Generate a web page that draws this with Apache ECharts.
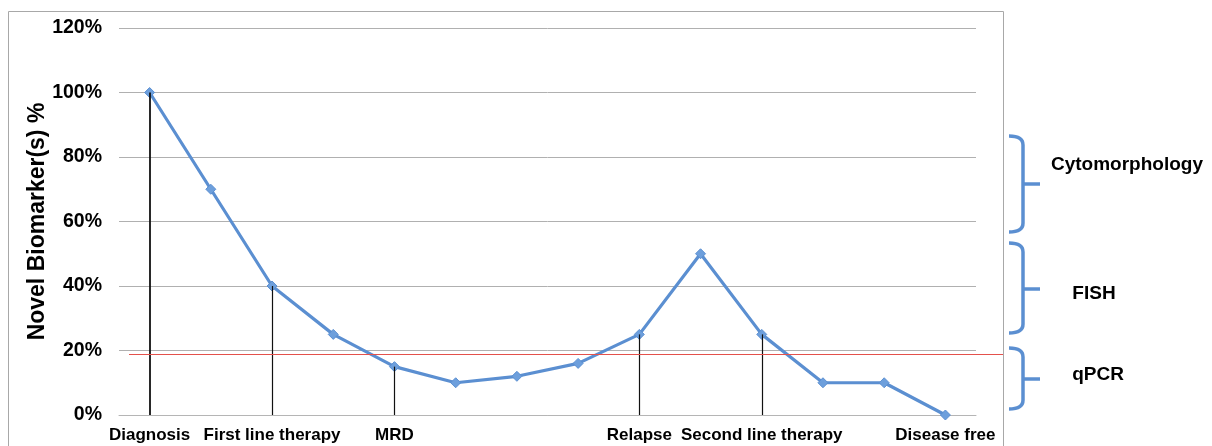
<!DOCTYPE html>
<html>
<head>
<meta charset="utf-8">
<script src="https://cdn.jsdelivr.net/npm/echarts@6/dist/echarts.min.js"></script>
<style>
  html, body { margin: 0; padding: 0; background: #fff; }
  #chart { width: 1212px; height: 446px; }
</style>
</head>
<body>
<div id="chart"></div>
<script>
// Disease course: biomarker level over time points
const categories = ['Diagnosis', '', 'First line therapy', '', 'MRD', '', '', '',
  'Relapse', '', 'Second line therapy', '', '', 'Disease free'];
const biomarkerPct = [100, 70, 40, 25, 15, 10, 12, 16, 25, 50, 25, 10, 10, 0];
// Time points that get a vertical drop line to the axis
const milestoneIdx = [0, 2, 4, 8, 10];
// Detection limit of the qPCR method
const qpcrThreshold = 19;
const yTicks = [0, 20, 40, 60, 80, 100, 120];

// Method ranges shown as braces on the right side
const methodLabels = ['Cytomorphology', 'FISH', 'qPCR'];

const FONT = "'Liberation Sans', Arial, Helvetica, sans-serif";
const BLUE = '#5b8fd1';

const chart = echarts.init(document.getElementById('chart'), null, { renderer: 'canvas' });

const dropLines = milestoneIdx.map(i => [
  { coord: [i, 0] },
  { coord: [i, biomarkerPct[i]], lineStyle: { width: i === 0 ? 1.8 : 1.2 } }
]);

const option = {
  animation: false,
  grid: { left: 119, right: 236, top: 28, bottom: 31, containLabel: false },
  xAxis: {
    type: 'category',
    data: categories,
    boundaryGap: true,
    axisLine: { show: true, lineStyle: { color: '#b5b5b5', width: 1 } },
    axisTick: { show: false },
    axisLabel: {
      interval: 0, margin: 12, color: '#000',
      fontFamily: FONT, fontWeight: 'bold', fontSize: 17
    }
  },
  yAxis: {
    type: 'value',
    min: yTicks[0], max: yTicks[yTicks.length - 1], interval: 20,
    name: 'Novel Biomarker(s) %',
    nameLocation: 'middle',
    nameGap: 70,
    nameMoveOverlap: false,
    nameTextStyle: { fontFamily: FONT, fontWeight: 'bold', fontSize: 23, color: '#000' },
    axisLine: { show: false },
    axisTick: { show: false },
    splitLine: { lineStyle: { color: '#b0b0b0', width: 1 } },
    axisLabel: {
      margin: 17, color: '#000',
      fontFamily: FONT, fontWeight: 'bold', fontSize: 19.5,
      formatter: v => v + '%'
    }
  },
  series: [
    {
      type: 'line',
      data: [],
      z: 1,
      silent: true,
      markLine: {
        silent: true,
        symbol: ['none', 'none'],
        label: { show: false },
        lineStyle: { color: '#111', type: 'solid', width: 1.2 },
        data: dropLines
      }
    },
    {
      type: 'line',
      data: biomarkerPct,
      z: 3,
      lineStyle: { color: BLUE, width: 3.2 },
      itemStyle: { color: '#6d9fdc', borderColor: BLUE, borderWidth: 1 },
      symbol: 'diamond',
      symbolSize: 10,
      showSymbol: true
    }
  ]
};

chart.setOption(option);

// Threshold line spans past the plot to the frame edge
const yThr = Math.round(chart.convertToPixel({ yAxisIndex: 0 }, qpcrThreshold)) + 0.5;

// Right-facing curly brace built from two curves, a spine and a tip
function braceParts(y1, y2, ym) {
  const x0 = 1009, xs = 1023, xt = 1040, r = 9;
  const st = { fill: 'none', stroke: BLUE, lineWidth: 3.5 };
  return [
    { type: 'bezierCurve', silent: true, style: st,
      shape: { x1: x0, y1: y1, cpx1: xs, cpy1: y1, x2: xs, y2: y1 + r } },
    { type: 'line', silent: true, style: st,
      shape: { x1: xs, y1: y1 + r, x2: xs, y2: y2 - r } },
    { type: 'bezierCurve', silent: true, style: st,
      shape: { x1: xs, y1: y2 - r, cpx1: xs, cpy1: y2, x2: x0, y2: y2 } },
    { type: 'line', silent: true, style: st,
      shape: { x1: xs, y1: ym, x2: xt, y2: ym } }
  ];
}
const braces = [
  { y1: 136, y2: 232, ym: 184, tx: 1127, ty: 165 },
  { y1: 243, y2: 333, ym: 289, tx: 1094, ty: 294 },
  { y1: 348, y2: 409, ym: 379, tx: 1098, ty: 375 }
];

const graphics = [
  {
    type: 'rect', silent: true, z: -1,
    shape: { x: 8.5, y: 11.5, width: 995, height: 500 },
    style: { fill: 'none', stroke: '#a8a8a8', lineWidth: 1 }
  },
  {
    type: 'line', silent: true, z: 10,
    shape: { x1: 129, y1: yThr, x2: 1003, y2: yThr },
    style: { stroke: '#e4514c', lineWidth: 1 }
  }
];
braces.forEach((b, k) => {
  braceParts(b.y1, b.y2, b.ym).forEach(p => graphics.push(p));
  graphics.push({
    type: 'text', silent: true,
    x: b.tx, y: b.ty,
    style: {
      text: methodLabels[k], fill: '#000',
      font: `bold 19px ${FONT}`, align: 'center', verticalAlign: 'middle'
    }
  });
});

chart.setOption({ graphic: graphics });
</script>
</body>
</html>
